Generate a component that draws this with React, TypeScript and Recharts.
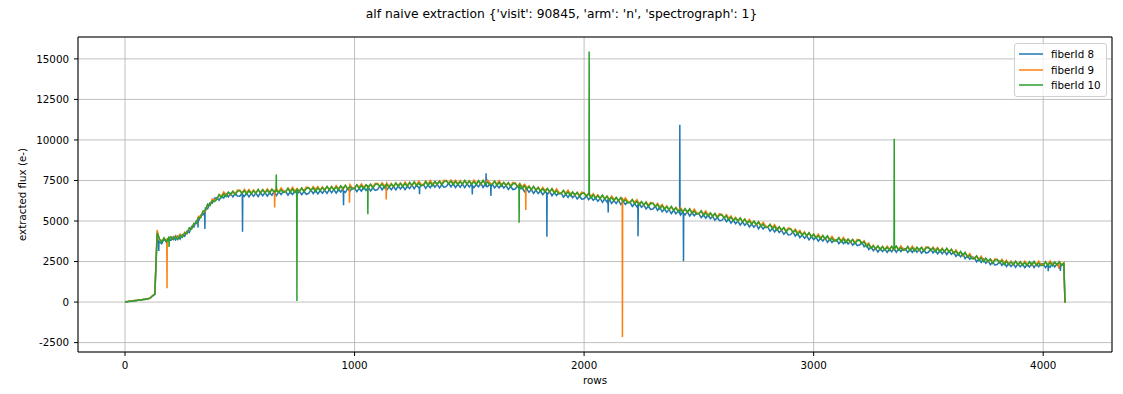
import { LineChart, Line, XAxis, YAxis, CartesianGrid, Legend, ReferenceArea, Label } from "recharts"

const FONT = "'DejaVu Sans', sans-serif"

// detector rows sampled every 10, plus the last row where the flux drops off
const rows = Array.from({ length: 410 }, (_, i) => i * 10).concat([4095])

const fiber8 = [
  10, 40, 40, 70, 70, 110, 110, 150, 150, 190,
  200, 260, 370, 480, 4000, 3720, 3600, 3900, 3700, 3860,
  3810, 4030, 3830, 4070, 3890, 4160, 4060, 4370, 4280, 4660,
  4620, 5000, 4980, 5360, 5380, 5800, 5750, 6120, 6100, 6410,
  6430, 6280, 6530, 6410, 6680, 6490, 6690, 6490, 6700, 6540,
  6530, 6740, 6520, 6720, 6490, 6700, 6520, 6720, 6510, 6740,
  6560, 6750, 6530, 6740, 6590, 6820, 6570, 6800, 6630, 6830,
  6820, 6600, 6790, 6630, 6870, 6660, 6830, 6620, 6810, 6650,
  6700, 6910, 6690, 6900, 6670, 6880, 6710, 6910, 6700, 6935,
  6750, 6940, 6725, 6930, 6790, 7015, 6770, 7000, 6835, 7030,
  7030, 6810, 7010, 6845, 7095, 6885, 7060, 6850, 7050, 6885,
  6940, 7150, 6925, 7130, 6900, 7105, 6930, 7130, 6915, 7150,
  6970, 7155, 6940, 7145, 7000, 7230, 6985, 7210, 7045, 7240,
  7240, 7015, 7210, 7050, 7295, 7080, 7260, 7045, 7240, 7075,
  7130, 7330, 7100, 7305, 7065, 7265, 7085, 7280, 7060, 7290,
  7100, 7280, 7060, 7255, 7105, 7325, 7070, 7285, 7115, 7300,
  7280, 7040, 7220, 7040, 7265, 7030, 7185, 6950, 7125, 6940,
  6970, 7150, 6975, 7070, 6805, 6980, 6775, 6940, 6700, 6910,
  6700, 6860, 6620, 6800, 6630, 6830, 6560, 6760, 6575, 6745,
  6720, 6470, 6645, 6455, 6680, 6440, 6595, 6355, 6530, 6340,
  6370, 6555, 6310, 6490, 6275, 6415, 6220, 6390, 6155, 6365,
  6160, 6320, 6080, 6260, 6085, 6285, 6010, 6210, 6020, 6190,
  6160, 5905, 6070, 5875, 6090, 5845, 5990, 5745, 5910, 5715,
  5740, 5915, 5660, 5835, 5570, 5745, 5540, 5705, 5460, 5665,
  5450, 5610, 5370, 5550, 5380, 5580, 5310, 5510, 5320, 5490,
  5460, 5205, 5370, 5175, 5390, 5145, 5290, 5045, 5210, 5015,
  5040, 5215, 4960, 5130, 4865, 5040, 4835, 5000, 4750, 4955,
  4740, 4890, 4635, 4805, 4620, 4810, 4525, 4715, 4510, 4670,
  4630, 4370, 4530, 4330, 4540, 4290, 4430, 4180, 4340, 4140,
  4160, 4330, 4070, 4240, 3970, 4140, 3930, 4090, 3840, 4040,
  3850, 4005, 3760, 3935, 3760, 3955, 3680, 3875, 3680, 3850,
  3850, 3605, 3780, 3595, 3820, 3585, 3740, 3500, 3670, 3485,
  3520, 3690, 3410, 3550, 3250, 3390, 3170, 3330, 3080, 3300,
  3110, 3285, 3060, 3260, 3105, 3325, 3070, 3290, 3115, 3305,
  3290, 3055, 3240, 3065, 3300, 3075, 3240, 3015, 3200, 3025,
  3070, 3265, 3030, 3225, 2970, 3175, 2985, 3165, 2935, 3150,
  2940, 3080, 2820, 2980, 2790, 2970, 2680, 2850, 2640, 2790,
  2740, 2480, 2640, 2440, 2650, 2400, 2545, 2300, 2465, 2280,
  2320, 2505, 2260, 2445, 2190, 2380, 2190, 2370, 2140, 2365,
  2170, 2345, 2120, 2315, 2160, 2380, 2125, 2345, 2170, 2360,
  2350, 2120, 2315, 2145, 2390, 2170, 2345, 2125, 2320, 2300,
  -40,
]

const fiber9 = [
  20, 30, 60, 50, 90, 90, 130, 130, 170, 170,
  190, 250, 400, 510, 4450, 3850, 3780, 3920, 3790, 3950,
  4030, 3860, 4110, 3960, 4190, 4030, 4310, 4210, 4550, 4530,
  4850, 4850, 5290, 5280, 5590, 5590, 6030, 5970, 6360, 6290,
  6340, 6630, 6530, 6790, 6580, 6770, 6610, 6840, 6690, 6910,
  6900, 6720, 6950, 6760, 6940, 6720, 6920, 6710, 6930, 6760,
  6940, 6750, 6990, 6810, 6950, 6760, 7000, 6800, 7040, 6860,
  6800, 7020, 6860, 7080, 6840, 7010, 6820, 7040, 6870, 7090,
  7070, 6890, 7120, 6940, 7120, 6900, 7110, 6900, 7120, 6955,
  7130, 6940, 7185, 7000, 7150, 6955, 7200, 7000, 7245, 7060,
  7010, 7230, 7080, 7295, 7065, 7235, 7050, 7270, 7110, 7325,
  7310, 7130, 7355, 7170, 7350, 7125, 7330, 7120, 7335, 7170,
  7350, 7155, 7400, 7215, 7360, 7170, 7415, 7210, 7455, 7270,
  7220, 7435, 7280, 7500, 7265, 7430, 7250, 7465, 7300, 7515,
  7500, 7310, 7530, 7345, 7515, 7285, 7490, 7270, 7480, 7310,
  7480, 7280, 7520, 7325, 7470, 7260, 7500, 7285, 7520, 7330,
  7260, 7460, 7290, 7490, 7235, 7380, 7175, 7370, 7185, 7380,
  7340, 7130, 7325, 7110, 7255, 7000, 7175, 6930, 7120, 6930,
  7080, 6860, 7080, 6870, 6990, 6770, 6990, 6760, 6985, 6775,
  6700, 6890, 6715, 6905, 6650, 6790, 6585, 6775, 6590, 6780,
  6740, 6535, 6740, 6530, 6685, 6435, 6620, 6380, 6575, 6385,
  6540, 6320, 6540, 6330, 6445, 6225, 6440, 6210, 6430, 6220,
  6140, 6325, 6140, 6325, 6060, 6195, 5980, 6165, 5970, 6155,
  6110, 5895, 6090, 5875, 6020, 5765, 5940, 5695, 5880, 5685,
  5830, 5610, 5830, 5620, 5740, 5520, 5740, 5510, 5730, 5520,
  5440, 5625, 5440, 5625, 5360, 5495, 5280, 5465, 5270, 5455,
  5410, 5195, 5390, 5170, 5315, 5060, 5235, 4990, 5170, 4975,
  5120, 4890, 5095, 4875, 4980, 4750, 4955, 4715, 4920, 4700,
  4610, 4790, 4600, 4780, 4510, 4640, 4420, 4600, 4400, 4580,
  4530, 4310, 4500, 4280, 4420, 4160, 4330, 4080, 4260, 4060,
  4200, 3975, 4190, 3975, 4090, 3865, 4080, 3845, 4060, 3850,
  3770, 3965, 3790, 3985, 3730, 3875, 3670, 3860, 3670, 3865,
  3830, 3610, 3780, 3530, 3640, 3350, 3510, 3260, 3440, 3260,
  3430, 3225, 3460, 3280, 3435, 3215, 3440, 3230, 3465, 3275,
  3210, 3415, 3250, 3455, 3210, 3365, 3170, 3375, 3200, 3405,
  3380, 3185, 3400, 3205, 3370, 3135, 3325, 3095, 3295, 3110,
  3260, 3020, 3220, 2990, 3090, 2850, 3050, 2790, 2990, 2760,
  2660, 2840, 2650, 2830, 2560, 2690, 2475, 2660, 2465, 2660,
  2630, 2425, 2630, 2425, 2580, 2340, 2530, 2300, 2500, 2325,
  2490, 2285, 2520, 2325, 2460, 2260, 2495, 2285, 2520, 2330,
  2270, 2480, 2325, 2535, 2300, 2460, 2275, 2485, 2320, 2410,
  -50,
]

const fiber10 = [
  30, 10, 70, 40, 100, 80, 140, 120, 180, 160,
  210, 240, 390, 490, 4280, 3900, 3690, 3960, 3720, 3980,
  4020, 3860, 4050, 3850, 4130, 4000, 4260, 4230, 4580, 4500,
  4840, 4840, 5210, 5200, 5620, 5630, 6040, 5950, 6250, 6200,
  6340, 6630, 6440, 6680, 6500, 6770, 6640, 6830, 6610, 6830,
  6880, 6710, 6880, 6640, 6870, 6680, 6860, 6720, 6950, 6720,
  6920, 6730, 6900, 6720, 6970, 6790, 7000, 6770, 6920, 6760,
  6800, 7020, 6770, 6970, 6760, 7010, 6850, 7030, 6790, 7010,
  7050, 6880, 7050, 6820, 7050, 6860, 7050, 6910, 7140, 6915,
  7110, 6920, 7095, 6910, 7170, 6985, 7200, 6970, 7125, 6960,
  7010, 7230, 6990, 7185, 6985, 7235, 7080, 7260, 7030, 7245,
  7290, 7120, 7285, 7050, 7280, 7085, 7270, 7130, 7355, 7130,
  7330, 7135, 7310, 7125, 7380, 7200, 7415, 7180, 7335, 7170,
  7220, 7435, 7190, 7390, 7185, 7430, 7280, 7455, 7220, 7435,
  7480, 7300, 7460, 7225, 7445, 7245, 7425, 7280, 7500, 7270,
  7460, 7260, 7430, 7235, 7485, 7290, 7500, 7255, 7400, 7230,
  7260, 7460, 7200, 7380, 7155, 7380, 7205, 7360, 7105, 7300,
  7320, 7120, 7255, 6990, 7185, 6960, 7115, 6940, 7140, 6890,
  7060, 6840, 6990, 6780, 7010, 6800, 6990, 6730, 6865, 6675,
  6700, 6890, 6625, 6795, 6570, 6790, 6615, 6765, 6510, 6700,
  6720, 6525, 6670, 6410, 6615, 6395, 6560, 6390, 6595, 6345,
  6520, 6300, 6450, 6240, 6465, 6255, 6440, 6180, 6310, 6120,
  6140, 6325, 6050, 6215, 5980, 6195, 6010, 6155, 5890, 6075,
  6090, 5885, 6020, 5755, 5950, 5725, 5880, 5705, 5900, 5645,
  5810, 5590, 5740, 5530, 5760, 5550, 5740, 5480, 5610, 5420,
  5440, 5625, 5350, 5515, 5280, 5495, 5310, 5455, 5190, 5375,
  5390, 5185, 5320, 5050, 5245, 5020, 5175, 5000, 5190, 4935,
  5100, 4870, 5005, 4785, 5000, 4780, 4955, 4685, 4800, 4600,
  4610, 4790, 4510, 4670, 4430, 4640, 4450, 4590, 4320, 4500,
  4510, 4300, 4430, 4160, 4350, 4120, 4270, 4090, 4280, 4020,
  4180, 3955, 4100, 3885, 4110, 3895, 4080, 3815, 3940, 3750,
  3780, 3975, 3710, 3885, 3660, 3885, 3710, 3860, 3600, 3795,
  3820, 3610, 3720, 3420, 3580, 3320, 3460, 3280, 3470, 3230,
  3420, 3215, 3380, 3190, 3435, 3245, 3450, 3210, 3355, 3185,
  3220, 3425, 3170, 3355, 3140, 3375, 3210, 3375, 3130, 3335,
  3370, 3185, 3340, 3095, 3310, 3105, 3275, 3115, 3325, 3080,
  3250, 3010, 3140, 2910, 3120, 2890, 3060, 2770, 2880, 2670,
  2670, 2850, 2570, 2730, 2490, 2700, 2515, 2660, 2395, 2590,
  2620, 2425, 2570, 2315, 2520, 2310, 2480, 2320, 2530, 2295,
  2480, 2275, 2440, 2245, 2490, 2300, 2505, 2265, 2410, 2240,
  2280, 2490, 2245, 2435, 2230, 2470, 2315, 2485, 2250, 2400,
  -30,
]

// single-row outliers: [row, value before, outlier, value after]
type Spike = [number, number, number, number]

const spikes8: Spike[] = [
  [147, 3700, 3150, 3750],
  [318, 5050, 4600, 5100],
  [348, 5550, 4500, 5600],
  [512, 6600, 4330, 6620],
  [952, 6860, 5980, 6850],
  [1283, 7060, 6650, 7070],
  [1513, 7150, 6640, 7160],
  [1573, 7150, 7950, 7140],
  [1594, 7150, 6550, 7140],
  [1838, 6740, 4030, 6730],
  [2105, 6330, 5530, 6320],
  [2235, 5970, 4060, 5960],
  [2417, 5480, 10940, 5490],
  [2433, 5450, 2520, 5460],
  [4022, 2240, 1900, 2250],
  [4075, 2260, 1920, 2280],
]

const spikes9: Spike[] = [
  [183, 3900, 850, 3900],
  [652, 6880, 5830, 6890],
  [978, 7060, 6120, 7070],
  [1138, 7240, 6330, 7250],
  [1746, 7180, 5680, 7170],
  [2167, 6400, -2150, 6390],
  [4068, 2370, 2050, 2380],
]

const spikes10: Spike[] = [
  [192, 3880, 3400, 3880],
  [659, 6850, 7870, 6860],
  [749, 6900, 60, 6910],
  [1058, 7160, 5420, 7170],
  [1717, 7150, 4900, 7140],
  [2022, 6620, 15450, 6610],
  [3351, 3330, 10080, 3320],
]

const xTicks = [0, 1000, 2000, 3000, 4000]
const yTicks = [-2500, 0, 2500, 5000, 7500, 10000, 12500, 15000]

const buildSeries = (values: number[], spikes: Spike[]) => {
  const pts = rows.map((row, i) => ({ row, flux: values[i] }))
  spikes.forEach(([row, before, peak, after]) => {
    pts.push({ row: row - 1, flux: before }, { row, flux: peak }, { row: row + 1, flux: after })
  })
  return pts.sort((a, b) => a.row - b.row)
}

const series = [
  { name: "fiberId 8", color: "#1f77b4", data: buildSeries(fiber8, spikes8) },
  { name: "fiberId 9", color: "#ff7f0e", data: buildSeries(fiber9, spikes9) },
  { name: "fiberId 10", color: "#2ca02c", data: buildSeries(fiber10, spikes10) },
]

const X_DOMAIN: [number, number] = [-204.75, 4299.75]
const Y_DOMAIN: [number, number] = [-3080, 16350]

const tickStyle = { fill: "#000", fontSize: 10.3, fontFamily: FONT }

const YLabel = ({ viewBox }: any) => {
  const x = viewBox.x + 22
  const y = viewBox.y + viewBox.height / 2
  return (
    <text x={x} y={y} transform={`rotate(-90, ${x}, ${y})`} textAnchor="middle" dominantBaseline="central"
      fontSize={10.3} fontFamily={FONT} fill="#000">
      extracted flux (e-)
    </text>
  )
}

const XLabel = ({ viewBox }: any) => (
  <text x={viewBox.x + viewBox.width / 2} y={viewBox.y + 28} textAnchor="middle" dominantBaseline="central"
    fontSize={10.3} fontFamily={FONT} fill="#000">
    rows
  </text>
)

// legend keeps the plotting order of the series
const renderLegend = () => (
  <div
    style={{
      background: "rgba(255,255,255,0.8)",
      border: "1px solid #d0d0d0",
      borderRadius: 3,
      padding: "2px 0 0 4px",
      boxSizing: "border-box",
      width: 93,
      height: 54,
      fontFamily: FONT,
      fontSize: 10.3,
      color: "#000",
    }}
  >
    {series.map((s) => (
      <div key={s.name} style={{ display: "flex", alignItems: "center", height: 15.8 }}>
        <svg width={24} height={4} style={{ marginRight: 8, display: "block" }}>
          <line x1={0} y1={2} x2={24} y2={2} stroke={s.color} strokeWidth={1.5} />
        </svg>
        <span>{s.name}</span>
      </div>
    ))}
  </div>
)

export default function App() {
  return (
    <div style={{ position: "absolute", left: 0, top: 0, width: 1123, height: 394, background: "#fff" }}>
      <div
        style={{
          position: "absolute",
          left: 0,
          top: 6,
          width: 1123,
          textAlign: "center",
          fontFamily: FONT,
          fontSize: 12.3,
          lineHeight: "16px",
          color: "#000",
        }}
      >
        alf naive extraction {"{'visit': 90845, 'arm': 'n', 'spectrograph': 1}"}
      </div>
      <LineChart width={1123} height={394} margin={{ top: 37, right: 11, bottom: 0, left: 0 }}>
        <CartesianGrid stroke="#b0b0b0" strokeWidth={0.8} />
        <XAxis
          dataKey="row"
          type="number"
          domain={X_DOMAIN}
          allowDataOverflow
          ticks={xTicks}
          interval={0}
          height={42}
          tick={tickStyle}
          tickSize={4}
          tickMargin={6}
          tickLine={{ stroke: "#000" }}
          axisLine={false}
        >
          <Label content={XLabel} />
        </XAxis>
        <YAxis
          type="number"
          domain={Y_DOMAIN}
          allowDataOverflow
          ticks={yTicks}
          interval={0}
          width={78}
          tick={tickStyle}
          tickSize={4}
          tickMargin={5}
          tickLine={{ stroke: "#000" }}
          axisLine={false}
        >
          <Label content={YLabel} />
        </YAxis>
        <ReferenceArea
          x1={X_DOMAIN[0]}
          x2={X_DOMAIN[1]}
          y1={Y_DOMAIN[0]}
          y2={Y_DOMAIN[1]}
          fill="none"
          stroke="#000"
          strokeWidth={1}
          ifOverflow="visible"
        />
        {series.map((s) => (
          <Line
            key={s.name}
            data={s.data}
            dataKey="flux"
            name={s.name}
            type="linear"
            stroke={s.color}
            strokeWidth={1.5}
            dot={false}
            activeDot={false}
            isAnimationActive={false}
          />
        ))}
        <Legend
          layout="horizontal"
          verticalAlign="middle"
          align="center"
          content={renderLegend}
          wrapperStyle={{ position: "absolute", left: 1014, top: 43, width: 93, height: 54 }}
        />
      </LineChart>
    </div>
  )
}
